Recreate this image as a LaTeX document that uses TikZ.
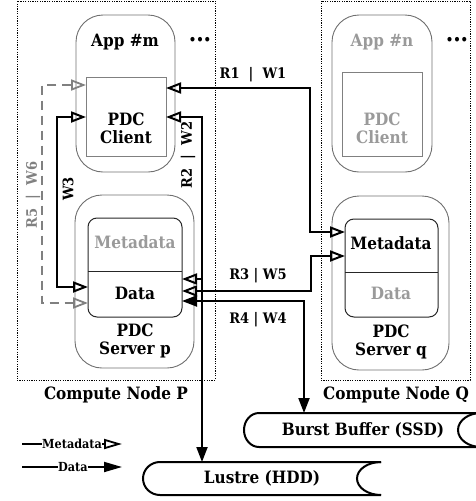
\documentclass[tikz,border=0pt]{standalone}
\usepackage{fontspec}
\setmainfont{DejaVu Serif Condensed}
\usetikzlibrary{arrows.meta}
\definecolor{lgray}{HTML}{9A9A9A}
\definecolor{bgray}{HTML}{707070}
\definecolor{dgray}{HTML}{808080}
\tikzset{
  box/.style={inner sep=0pt, outer sep=0pt},
  nodebox/.style={box, draw=black, line width=1pt, dash pattern=on 1.2pt off 1.2pt},
  appbox/.style={box, draw=bgray, line width=0.9pt, rounded corners=27pt},
  clibox/.style={box, draw=dgray, line width=1pt, fill=white},
  innbox/.style={box, draw=black!85, line width=1pt, rounded corners=9pt},
  txt/.style={inner sep=0pt, font=\fontsize{17}{18}\selectfont\bfseries, align=center},
  dots/.style={inner sep=0pt, font=\fontsize{13}{14}\selectfont\bfseries},
  lbl/.style={inner sep=0pt, font=\fontsize{14.5}{16}\selectfont\bfseries},
  lgd/.style={inner sep=0pt, font=\fontsize{12.5}{14}\selectfont\bfseries},
  conn/.style={line width=2pt},
  oarr/.style={conn, {Triangle[open, length=15pt, width=11pt]}-{Triangle[open, length=15pt, width=11pt]}},
  farr/.style={conn, -{Triangle[length=15pt, width=11pt]}},
  garr/.style={line width=1.8pt, draw=dgray, dash pattern=on 9pt off 6pt,
    {Triangle[open, length=15pt, width=11pt]}-{Triangle[open, length=15pt, width=11pt]}},
  cyl/.style={line width=2pt}
}
\begin{document}
\begin{tikzpicture}[x=1pt, y=-1pt]
\useasboundingbox (0,0) rectangle (476,501);
\clip (0,0) rectangle (476,501);
% compute nodes
\node[nodebox, minimum width=198pt, minimum height=379pt] (cnp) at (116,190.5) {};
\node[nodebox, minimum width=149pt, minimum height=379pt] (cnq) at (395.5,190.5) {};
\node[txt] (cnpl) at (116,395) {Compute Node P};
\node[txt] (cnql) at (396,395) {Compute Node Q};
% apps
\node[appbox, minimum width=99pt, minimum height=157pt] (appm) at (125.5,93.5) {};
\node[appbox, minimum width=100pt, minimum height=157pt] (appn) at (382,93.5) {};
\node[txt] (appml) at (125,42) {App \#m};
\node[txt, text=lgray] (appnl) at (382,42) {App \#n};
\node[dots] (dotm) at (200,41) {•••};
\node[dots] (dotn) at (457,41) {•••};
\node[clibox, minimum width=80pt, minimum height=79pt] (clim) at (126,116.5) {};
\node[clibox, minimum width=80pt, minimum height=84pt] (clin) at (382,114) {};
\node[txt] (climl) at (126,128) {PDC\\Client};
\node[txt, text=lgray] (clinl) at (382,128) {PDC\\Client};
% servers
\node[appbox, minimum width=119pt, minimum height=173pt] (srvp) at (134.5,281.5) {};
\node[appbox, minimum width=117pt, minimum height=174pt] (srvq) at (390.5,283) {};
\node[innbox, minimum width=94pt, minimum height=99pt] (innp) at (135,267.5) {};
\node[innbox, minimum width=93pt, minimum height=98pt] (innq) at (391.5,268) {};
\node[box, minimum width=94pt, minimum height=53pt] (metap) at (135,244.5) {};
\node[box, minimum width=94pt, minimum height=46pt] (datap) at (135,294) {};
\node[box, minimum width=93pt, minimum height=53pt] (metaq) at (391.5,245.5) {};
\node[box, minimum width=93pt, minimum height=45pt] (dataq) at (391.5,294.5) {};
\draw[line width=1pt, black!85] (metap.south west) -- (metap.south east);
\draw[line width=1pt, black!85] (metaq.south west) -- (metaq.south east);
\node[txt, text=lgray] (metapl) at (135,242) {Metadata};
\node[txt] (datapl) at (135,293) {Data};
\node[txt] (metaql) at (391,243) {Metadata};
\node[txt, text=lgray] (dataql) at (391,293) {Data};
\node[txt] (srvpl) at (135,341) {PDC\\Server p};
\node[txt] (srvql) at (391,342) {PDC\\Server q};
% storage
\draw[cyl] (481,413) -- (259,413) arc[start angle=90, end angle=270, x radius=15pt, y radius=17pt] -- (481,447);
\draw[cyl] (481,413) arc[start angle=90, end angle=270, x radius=23pt, y radius=17pt];
\node[txt] (bbl) at (363,430) {Burst Buffer (SSD)};
\coordinate (bbtop) at (304,413);
\draw[cyl] (381,462) -- (160,462) arc[start angle=90, end angle=270, x radius=17pt, y radius=16.5pt] -- (381,495);
\draw[cyl] (381,462) arc[start angle=90, end angle=270, x radius=24pt, y radius=16.5pt];
\node[txt] (lusl) at (262,478) {Lustre (HDD)};
\coordinate (lustop) at (202,462);
% connectors
\coordinate (r1a) at (310,88);
\coordinate (r1b) at (310,232);
\draw[oarr] (clim.east |- r1a) -- (r1a) -- (r1b) -- (metaq.west |- r1b);
\node[lbl] (r1l) at (253,75) {R1~~|~~W1};
\coordinate (r2a) at (202,117);
\coordinate (r2b) at (202,279);
\draw[oarr] (clim.east |- r2a) -- (r2a) -- (r2b) -- (datap.east |- r2b);
\node[lbl, rotate=90] (r2l) at (188,155) {R2~~|~~W2};
\coordinate (w3a) at (57,117);
\coordinate (w3b) at (57,287);
\draw[oarr] (clim.west |- w3a) -- (w3a) -- (w3b) -- (datap.west |- w3b);
\node[lbl, rotate=90] (w3l) at (68,189) {W3};
\coordinate (r5a) at (42,85);
\coordinate (r5b) at (42,303);
\draw[garr] (clim.west |- r5a) -- (r5a) -- (r5b) -- (datap.west |- r5b);
\node[lbl, rotate=90, text=dgray] (r5l) at (33,195) {R5~~|~~W6};
\coordinate (r3a) at (311,291);
\coordinate (r3b) at (311,256);
\draw[oarr] (datap.east |- r3a) -- (r3a) -- (r3b) -- (metaq.west |- r3b);
\node[lbl] (r3l) at (258,276) {R3 | W5};
\coordinate (r4a) at (202,301);
\coordinate (r4b) at (304,301);
\draw[conn] (r2b) -- (r4a);
\draw[farr] (r4a) -- (datap.east |- r4a);
\draw[farr] (r4a) -- (lustop);
\draw[farr] (r4a) -- (r4b) -- (bbtop);
\node[lbl] (r4l) at (258,320) {R4 | W4};
% legend
\coordinate (lg1) at (22,444);
\node[lgd, anchor=west] (lgm) at (42,444) {Metadata};
\coordinate (lg1e) at (122,444);
\draw[line width=1.8pt] (lg1) -- (lgm.west);
\draw[line width=1.8pt, -{Triangle[open, length=18pt, width=10pt]}] (lgm.east) -- (lg1e);
\coordinate (lg2) at (22,467);
\node[lgd, anchor=west] (lgd) at (58,467) {Data};
\coordinate (lg2e) at (122,467);
\draw[line width=1.8pt] (lg2) -- (lgd.west);
\draw[line width=1.8pt, -{Triangle[length=18pt, width=10pt]}] (lgd.east) -- (lg2e);
\end{tikzpicture}
\end{document}
